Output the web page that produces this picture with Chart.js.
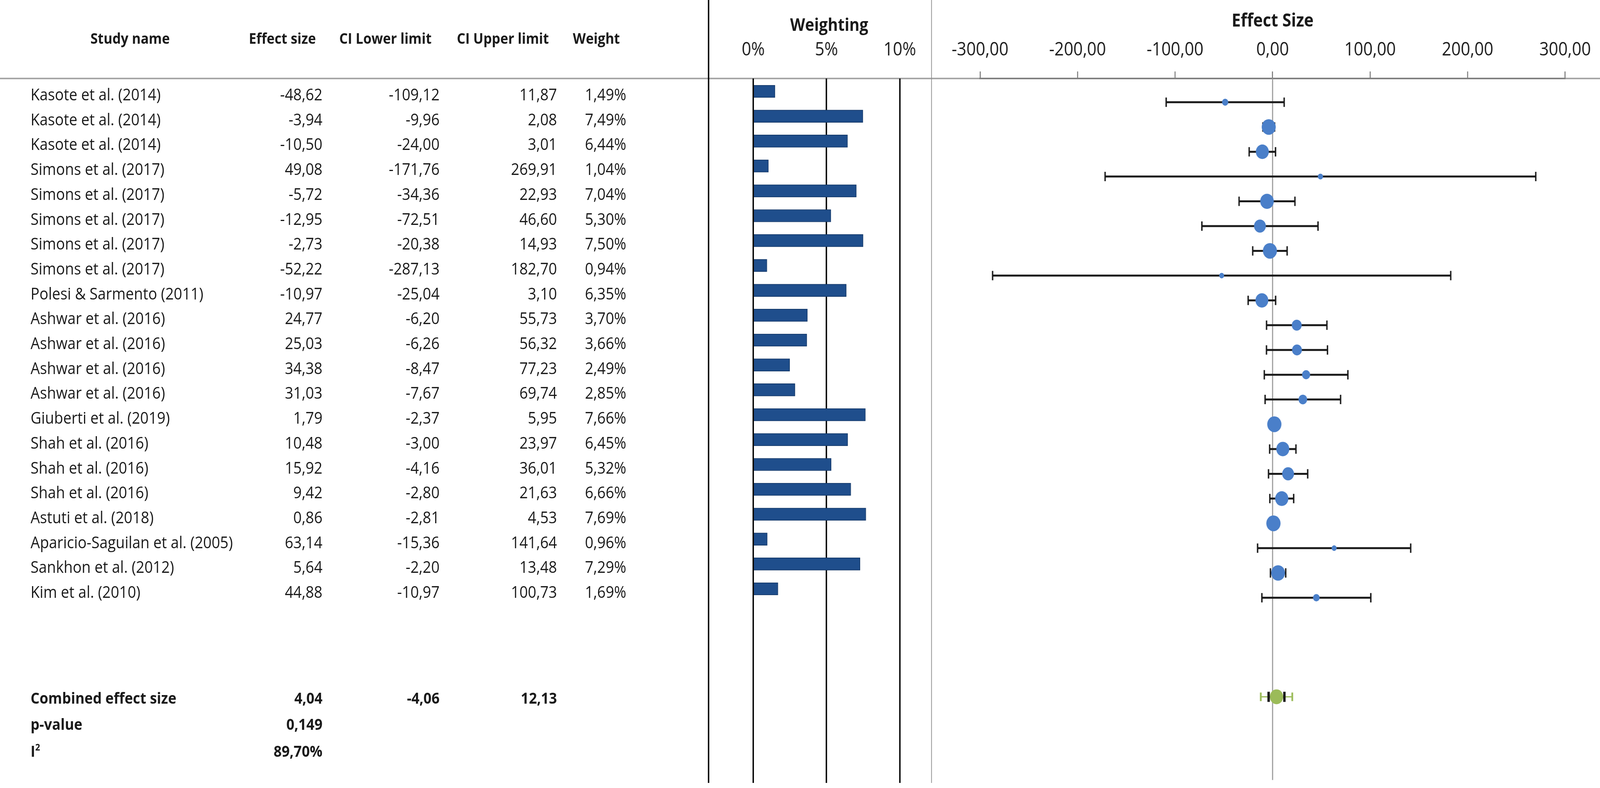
<!DOCTYPE html>
<html>
<head>
<meta charset="utf-8">
<script src="https://cdn.jsdelivr.net/npm/chart.js@4.4.1/dist/chart.umd.min.js"></script>
<style>
  html, body { margin: 0; padding: 0; background: #fff; overflow: hidden; }
  #raiz { position: absolute; left: 0; top: 0; width: 4550px; height: 2018px; transform-origin: 0 0;
          font-family: "Open Sans", "Noto Sans", sans-serif; color: #1a1a1a; }
  .t { position: absolute; white-space: nowrap; font-size: 42px; line-height: 1.2; }
  .l { transform: translateY(-50%); }
  .r { transform: translate(-100%, -50%); }
  .c { transform: translate(-50%, -50%); }
  .b { font-weight: 700; }
  .h { font-size: 38px; }
  .line { position: absolute; }
  canvas { position: absolute; top: 0; }
  sup { font-size: 24px; vertical-align: 16px; }
</style>
</head>
<body>
<div id="raiz">
<div class="line" style="left:0;top:199px;width:4550px;height:4px;background:#a6a6a6"></div>
<div class="line" style="left:2013px;top:0;width:4px;height:2005px;background:#000"></div>
<div class="line" style="left:2648px;top:0;width:2px;height:2005px;background:#8c8c8c"></div>
<canvas id="chartPeso" width="634" height="2018" style="left:2015px"></canvas>
<canvas id="chartEfeito" width="1901" height="2018" style="left:2649px"></canvas>
<div id="tabela"></div>
</div>

<script>
// dados
var estudos = ["Kasote et al. (2014)", "Kasote et al. (2014)", "Kasote et al. (2014)",
  "Simons et al. (2017)", "Simons et al. (2017)", "Simons et al. (2017)", "Simons et al. (2017)", "Simons et al. (2017)",
  "Polesi & Sarmento (2011)", "Ashwar et al. (2016)", "Ashwar et al. (2016)", "Ashwar et al. (2016)", "Ashwar et al. (2016)",
  "Giuberti et al. (2019)", "Shah et al. (2016)", "Shah et al. (2016)", "Shah et al. (2016)", "Astuti et al. (2018)",
  "Aparicio-Saguilan et al. (2005)", "Sankhon et al. (2012)", "Kim et al. (2010)"]
var efeito = [-48.62, -3.94, -10.50, 49.08, -5.72, -12.95, -2.73, -52.22, -10.97, 24.77, 25.03, 34.38, 31.03,
  1.79, 10.48, 15.92, 9.42, 0.86, 63.14, 5.64, 44.88]
var limInferior = [-109.12, -9.96, -24.00, -171.76, -34.36, -72.51, -20.38, -287.13, -25.04, -6.20, -6.26, -8.47, -7.67,
  -2.37, -3.00, -4.16, -2.80, -2.81, -15.36, -2.20, -10.97]
var limSuperior = [11.87, 2.08, 3.01, 269.91, 22.93, 46.60, 14.93, 182.70, 3.10, 55.73, 56.32, 77.23, 69.74,
  5.95, 23.97, 36.01, 21.63, 4.53, 141.64, 13.48, 100.73]
var pesos = [1.49, 7.49, 6.44, 1.04, 7.04, 5.30, 7.50, 0.94, 6.35, 3.70, 3.66, 2.49, 2.85,
  7.66, 6.45, 5.32, 6.66, 7.69, 0.96, 7.29, 1.69]

var efeitoCombinado = 4.04
var inferiorCombinado = -4.06
var superiorCombinado = 12.13
var intervaloVerde = [-12.1, 20.2]
var pValor = "0,149"
var iQuadrado = 89.70

var ticksPeso = [0, 5, 10]
var ticksEfeito = [-300, -200, -100, 0, 100, 200, 300]

// layout
var LARGURA = 4550
var ALTURA = 2018
var ALTURA_LINHA = 63.7
var TOPO_AREA = 201
var FUNDO_AREA = 2005
var TEXTO_Y0 = 241
var BARRA_Y0 = 234
var PONTO_Y0 = 262
var LINHA_COMBINADA = 24
var FONTE = "Open Sans"

// encaixa o desenho na janela (a janela pode ser menor que 4550)
var sx = window.innerWidth / LARGURA
var sy = window.innerHeight / ALTURA
document.getElementById("raiz").style.transform = "scale(" + sx + "," + sy + ")"

function virgula(v, casas) {
  return v.toFixed(casas).replace(".", ",")
}

function faixa(primeiroCentro) {
  var min = -(primeiroCentro - TOPO_AREA) / ALTURA_LINHA
  return { min: min, max: min + (FUNDO_AREA - TOPO_AREA) / ALTURA_LINHA }
}

function texto(txt, x, y, classes, tamanho) {
  var d = document.createElement("div")
  d.className = "t " + classes
  d.style.left = x + "px"
  d.style.top = y + "px"
  if (tamanho) d.style.fontSize = tamanho + "px"
  d.innerHTML = txt
  document.getElementById("tabela").appendChild(d)
}

// cabecalho
texto("Study name", 370, 98, "c b h")
texto("Effect size", 803, 98, "c b h")
texto("CI Lower limit", 1096, 98, "c b h")
texto("CI Upper limit", 1430, 98, "c b h")
texto("Weight", 1696, 98, "c b h")
texto("Weighting", 2358, 62, "c b", 44)
texto("Effect Size", 3619, 51, "c b", 46)

for (var i = 0; i < estudos.length; i++) {
  var y = TEXTO_Y0 + i * ALTURA_LINHA
  texto(estudos[i].replace("&", "&amp;"), 87, y, "l")
  texto(virgula(efeito[i], 2), 917, y, "r")
  texto(virgula(limInferior[i], 2), 1250, y, "r")
  texto(virgula(limSuperior[i], 2), 1584, y, "r")
  texto(virgula(pesos[i], 2) + "%", 1781, y, "r")
}

texto("Combined effect size", 87, 1787, "l b", 40)
texto(virgula(efeitoCombinado, 2), 917, 1787, "r b", 40)
texto(virgula(inferiorCombinado, 2), 1250, 1787, "r b", 40)
texto(virgula(superiorCombinado, 2), 1584, 1787, "r b", 40)
texto("p-value", 87, 1854, "l b", 40)
texto(pValor, 917, 1854, "r b", 40)
texto("I<sup>2</sup>", 87, 1923, "l b", 40)
texto(virgula(iQuadrado, 2) + "%", 917, 1923, "r b", 40)

var fonteTick = { family: FONTE, size: 47 }

// grafico de pesos
var faixaPeso = faixa(BARRA_Y0)
new Chart(document.getElementById("chartPeso"), {
  type: "bar",
  data: {
    datasets: [{
      data: pesos.map(function (w, i) { return { x: w, y: i } }),
      backgroundColor: "#1f4e8c",
      borderColor: "#153a6b",
      borderWidth: 2,
      barThickness: 32
    }]
  },
  options: {
    indexAxis: "y",
    responsive: false,
    animation: false,
    events: [],
    layout: { padding: { left: 127, right: 73, top: 0, bottom: 13 } },
    plugins: { legend: { display: false }, tooltip: { enabled: false } },
    scales: {
      x: {
        type: "linear",
        position: "top",
        min: 0,
        max: 10,
        afterBuildTicks: function (s) { s.ticks = ticksPeso.map(function (v) { return { value: v } }) },
        afterFit: function (s) { s.height = TOPO_AREA },
        grid: { color: "#000", lineWidth: 4, drawTicks: false },
        border: { display: false },
        ticks: {
          padding: 44, font: fonteTick, color: "#1a1a1a", maxRotation: 0, autoSkip: false,
          callback: function (v) { return v + "%" }
        }
      },
      y: {
        type: "linear", display: false, reverse: true, offset: false, grid: { offset: false },
        min: faixaPeso.min, max: faixaPeso.max
      }
    }
  }
})

// grafico de efeito (forest plot)
var faixaEfeito = faixa(PONTO_Y0)
var bigodes = []
for (var j = 0; j < efeito.length; j++) {
  bigodes.push({ x: limInferior[j], y: j }, { x: limSuperior[j], y: j }, { x: null, y: null })
}

new Chart(document.getElementById("chartEfeito"), {
  type: "scatter",
  data: {
    datasets: [
      {
        data: [{ x: 0, y: faixaEfeito.min }, { x: 0, y: faixaEfeito.max }],
        showLine: true, borderColor: "#9a9a9a", borderWidth: 3, pointRadius: 0, order: 6
      },
      {
        data: bigodes,
        showLine: true, spanGaps: false, borderColor: "#1a1a1a", borderWidth: 5,
        pointStyle: "line", pointRotation: 90, pointRadius: 12, pointBorderWidth: 4,
        pointBorderColor: "#1a1a1a", order: 5
      },
      {
        data: [{ x: intervaloVerde[0], y: LINHA_COMBINADA }, { x: intervaloVerde[1], y: LINHA_COMBINADA }],
        showLine: true, borderColor: "#9bbb59", borderWidth: 3,
        pointStyle: "line", pointRotation: 90, pointRadius: 11, pointBorderWidth: 5,
        pointBorderColor: "#9bbb59", order: 4
      },
      {
        data: [{ x: inferiorCombinado, y: LINHA_COMBINADA }, { x: superiorCombinado, y: LINHA_COMBINADA }],
        showLine: true, borderColor: "#1a1a1a", borderWidth: 5,
        pointStyle: "line", pointRotation: 90, pointRadius: 13, pointBorderWidth: 7,
        pointBorderColor: "#1a1a1a", order: 3
      },
      {
        data: efeito.map(function (e, i) { return { x: e, y: i } }),
        pointRadius: pesos.map(function (w) { return 7.3 * Math.sqrt(w) }),
        backgroundColor: "#4a7fc9", borderWidth: 0, order: 2
      },
      {
        data: [{ x: efeitoCombinado, y: LINHA_COMBINADA }],
        pointRadius: 19, backgroundColor: "#9bbb59", borderWidth: 0, order: 1
      }
    ]
  },
  options: {
    responsive: false,
    animation: false,
    events: [],
    layout: { padding: { left: 138, right: 95, top: 0, bottom: 13 } },
    plugins: { legend: { display: false }, tooltip: { enabled: false } },
    scales: {
      x: {
        type: "linear",
        position: "top",
        min: -300,
        max: 300,
        afterBuildTicks: function (s) { s.ticks = ticksEfeito.map(function (v) { return { value: v } }) },
        afterFit: function (s) { s.height = TOPO_AREA },
        grid: { drawOnChartArea: false, drawTicks: true, tickLength: 18, color: "#808080", lineWidth: 3 },
        border: { display: true, color: "#808080", width: 4 },
        ticks: {
          padding: 26, font: fonteTick, color: "#1a1a1a", maxRotation: 0, autoSkip: false,
          callback: function (v) { return virgula(v, 2) }
        }
      },
      y: { type: "linear", display: false, reverse: true, min: faixaEfeito.min, max: faixaEfeito.max }
    }
  }
})
</script>
</body>
</html>
